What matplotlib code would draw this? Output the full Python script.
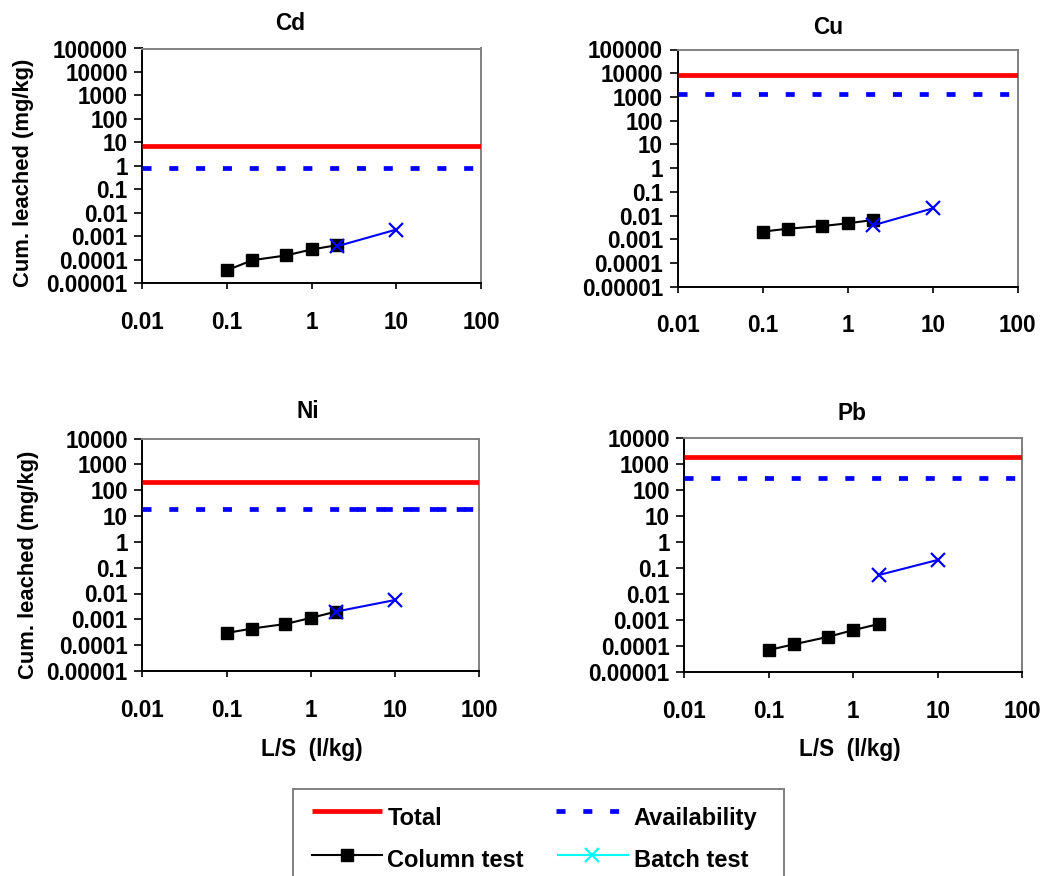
import matplotlib
matplotlib.use("Agg")
import matplotlib.pyplot as plt
from matplotlib.ticker import FixedLocator, FixedFormatter, NullLocator

plt.rcParams['font.family'] = ['Liberation Sans', 'DejaVu Sans']
plt.rcParams['font.weight'] = 'bold'
plt.rcParams['lines.scale_dashes'] = False

# ---------------- data ----------------
metals = ['Cd', 'Cu', 'Ni', 'Pb']
ls_column = [0.1, 0.2, 0.5, 1, 2]
ls_batch = [2, 10]

total_values = [6.8, 8300, 200, 1860]
availability_values = [0.77, 1280, 19, 290]

column_cd = [3.5e-5, 9.4e-5, 1.5e-4, 2.7e-4, 4.1e-4]
column_cu = [2.1e-3, 2.8e-3, 3.6e-3, 4.7e-3, 6.5e-3]
column_ni = [2.95e-4, 4.4e-4, 6.6e-4, 1.13e-3, 2.0e-3]
column_pb = [7.2e-5, 1.2e-4, 2.3e-4, 4.2e-4, 7.2e-4]

batch_cd = [3.7e-4, 1.9e-3]
batch_cu = [3.9e-3, 2.0e-2]
batch_ni = [2.0e-3, 5.6e-3]
batch_pb = [5.5e-2, 0.21]

x_ticks = [0.01, 0.1, 1, 10, 100]
x_tick_labels = ['0.01', '0.1', '1', '10', '100']
y_ticks = [1e-5, 1e-4, 1e-3, 1e-2, 1e-1, 1, 10, 100, 1000, 10000, 100000]
y_tick_labels = ['0.00001', '0.0001', '0.001', '0.01', '0.1', '1', '10',
                 '100', '1000', '10000', '100000']
y_top = [1e5, 1e5, 1e4, 1e4]

ylabel_text = 'Cum. leached (mg/kg)'
xlabel_text = 'L/S  (l/kg)'
legend_labels = ['Total', 'Availability', 'Column test', 'Batch test']

# ---------------- layout (pixels) ----------------
W, H, DPI = 1051, 876, 100
fig = plt.figure(figsize=(W / DPI, H / DPI), dpi=DPI)

def frac_rect(l, r, t, b):
    return [l / W, 1 - b / H, (r - l) / W, (b - t) / H]

axes_px = [
    (142.3, 481.0, 48.5, 283.0),
    (677.7, 1017.7, 49.5, 286.7),
    (142.3, 479.3, 438.5, 671.0),
    (684.3, 1022.3, 438.3, 672.3),
]
title_pos = [(290, 30), (828, 34), (308, 418), (852, 420)]

columns = [column_cd, column_cu, column_ni, column_pb]
batches = [batch_cd, batch_cu, batch_ni, batch_pb]

FS_TICK = 16.3
DASH = (6.5, 12.8)
LW_REF = 3.4

for i, m in enumerate(metals):
    ax = fig.add_axes(frac_rect(*axes_px[i]))
    ax.set_xscale('log')
    ax.set_yscale('log')
    ax.set_xlim(0.01, 100)
    ax.set_ylim(1e-5, y_top[i])

    ax.plot([0.01, 100], [total_values[i]] * 2, color='#ff0000', lw=LW_REF,
            solid_capstyle='butt', zorder=3)
    ax.plot([0.01, 100], [availability_values[i]] * 2, color='#0000ff',
            lw=LW_REF, dashes=DASH, zorder=3)
    if m == 'Ni':
        # overlapping second availability segment in the original
        ax.plot([2.85, 100], [availability_values[i]] * 2, color='#0000ff',
                lw=LW_REF, dashes=(6.5, 12.8), zorder=3)
    ax.plot(ls_column, columns[i], color='black', lw=1.5, marker='s',
            markersize=8.8, markerfacecolor='black', markeredgecolor='black',
            zorder=4)
    ax.plot(ls_batch, batches[i], color='#0000ff', lw=1.5, marker='x',
            markersize=9.5, markeredgewidth=1.6, zorder=5)

    ax.xaxis.set_major_locator(FixedLocator(x_ticks))
    ax.xaxis.set_major_formatter(FixedFormatter(x_tick_labels))
    ax.xaxis.set_minor_locator(NullLocator())
    yt = [v for v in y_ticks if v <= y_top[i]]
    yl = y_tick_labels[:len(yt)]
    ax.yaxis.set_major_locator(FixedLocator(yt))
    ax.yaxis.set_major_formatter(FixedFormatter(yl))
    ax.yaxis.set_minor_locator(NullLocator())

    ax.tick_params(axis='y', direction='out', length=5.5, width=1.2,
                   pad=5, labelsize=FS_TICK, color='black')
    ax.tick_params(axis='x', direction='out', length=4.5, width=1.2,
                   pad=15.5, labelsize=FS_TICK, color='black')
    for lab in ax.get_xticklabels() + ax.get_yticklabels():
        lab.set_fontweight('bold')

    ax.spines['left'].set_color('black')
    ax.spines['bottom'].set_color('black')
    ax.spines['left'].set_linewidth(1.4)
    ax.spines['bottom'].set_linewidth(1.4)
    ax.spines['top'].set_color('#808080')
    ax.spines['right'].set_color('#808080')
    ax.spines['top'].set_linewidth(1.4)
    ax.spines['right'].set_linewidth(1.4)

    tx, ty = title_pos[i]
    fig.text(tx / W, 1 - ty / H, m, ha='center', va='baseline',
             fontsize=16.3, fontweight='bold')

# y labels
fig.text(23.5 / W, 1 - 173 / H, ylabel_text, rotation=90, ha='center',
         va='center', fontsize=15.8, fontweight='bold')
fig.text(28.7 / W, 1 - 565 / H, ylabel_text, rotation=90, ha='center',
         va='center', fontsize=15.8, fontweight='bold')
# x labels
fig.text(311.7 / W, 1 - 755.7 / H, xlabel_text, ha='center', va='baseline',
         fontsize=16.3, fontweight='bold')
fig.text(850 / W, 1 - 755.7 / H, xlabel_text, ha='center', va='baseline',
         fontsize=16.3, fontweight='bold')

# ---------------- legend box ----------------
lx0, lx1, ly0, ly1 = 292.7, 784.0, 789.0, 905.0
lax = fig.add_axes(frac_rect(lx0, lx1, ly0, ly1))
lax.set_xlim(lx0, lx1)
lax.set_ylim(ly1, ly0)
lax.set_xticks([])
lax.set_yticks([])
for s in lax.spines.values():
    s.set_color('#808080')
    s.set_linewidth(1.4)

lax.plot([311.7, 381.7], [810.7, 810.7], color='#ff0000', lw=LW_REF,
         solid_capstyle='butt')
lax.plot([556, 619.3], [810.7, 810.7], color='#0000ff', lw=LW_REF,
         dashes=DASH)
lax.plot([311.7, 381.7], [855, 855], color='black', lw=1.5)
lax.plot([347.5], [855], marker='s', markersize=8.2, color='black')
lax.plot([557.7, 628.3], [855, 855], color='#00ffff', lw=1.5)
lax.plot([591.7], [855], marker='x', markersize=9.5, markeredgewidth=1.6,
         color='#00ffff')

FS_LEG = 17
lax.text(387.3, 825, legend_labels[0], ha='left', va='baseline',
         fontsize=FS_LEG, fontweight='bold')
lax.text(633.3, 825, legend_labels[1], ha='left', va='baseline',
         fontsize=FS_LEG, fontweight='bold')
lax.text(387.3, 867.3, legend_labels[2], ha='left', va='baseline',
         fontsize=FS_LEG, fontweight='bold')
lax.text(634.0, 867.3, legend_labels[3], ha='left', va='baseline',
         fontsize=FS_LEG, fontweight='bold')

fig.savefig('out.png', dpi=DPI)
